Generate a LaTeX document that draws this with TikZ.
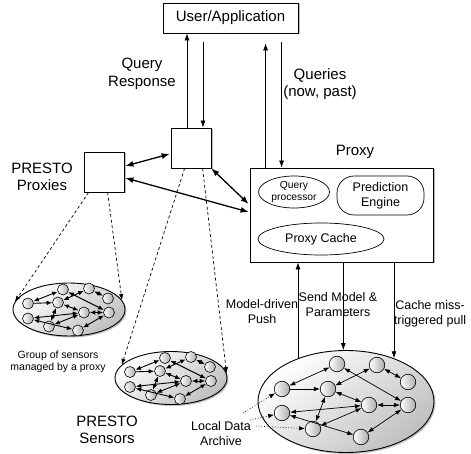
\documentclass[tikz,border=0pt]{standalone}
\usepackage{fontspec}
\setmainfont{Liberation Sans}
\usetikzlibrary{shapes.geometric,arrows.meta,shadows,calc}

\newcommand\grpedges[2]{%
  \draw[#2,<->] (#1A) -- (#1D);
  \draw[#2,->]  (#1D) -- (#1E);
  \draw[#2,<->] (#1B) -- (#1E);
  \draw[#2,<->] (#1B) -- (#1C);
  \draw[#2,<->] (#1A) -- (#1G);
  \draw[#2,<->] (#1E) -- (#1F);
  \draw[#2,<->] (#1F) -- (#1G);
  \draw[#2,<->] (#1H) -- (#1F);
  \draw[#2,<->] (#1I) -- (#1F);
  \draw[#2,<->] (#1E) -- (#1I);
  \draw[#2,<->] (#1H) -- (#1J);
  \draw[#2,<->] (#1J) -- (#1G);
}
\newcommand\smallgrp[3]{%
  \node[cluster, minimum width=112pt, minimum height=53pt] (#1) at (#2,#3) {};
  \begin{scope}[shift={(#2,#3)}]
    \node[ssensor] (#1A) at (-6,-20) {};
    \node[ssensor] (#1B) at (20,-21) {};
    \node[ssensor] (#1C) at (39,-11) {};
    \node[ssensor] (#1D) at (-41,-6) {};
    \node[ssensor] (#1E) at (-11,-7) {};
    \node[ssensor] (#1F) at (15,3) {};
    \node[ssensor] (#1G) at (40,3) {};
    \node[ssensor] (#1H) at (-41,9) {};
    \node[ssensor] (#1I) at (-20,17) {};
    \node[ssensor] (#1J) at (9,21) {};
  \end{scope}
  \grpedges{#1}{sarr}%
}

\begin{document}
\begin{tikzpicture}[x=1pt,y=-1pt,
  box/.style={draw, fill=white, line width=0.8pt,
    drop shadow={shadow xshift=1.5pt, shadow yshift=-1.5pt, opacity=0.55}},
  thinarr/.style={-{Latex[length=7pt,width=5pt]}, line width=0.7pt},
  bidi/.style={{Latex[length=8pt,width=6pt]}-{Latex[length=8pt,width=6pt]}, line width=1.3pt},
  dasharr/.style={dashed, dash pattern=on 3pt off 2.5pt, -{Latex[length=6pt,width=4.5pt]}, line width=0.7pt},
  dotarr/.style={dotted, -{Latex[length=6pt,width=4.5pt]}, line width=0.7pt},
  bigtxt/.style={font=\fontsize{15}{17.5}\selectfont, align=center},
  midtxt/.style={font=\fontsize{12.5}{15}\selectfont, align=center},
  smalltxt/.style={font=\fontsize{10.5}{12}\selectfont, align=center},
  cluster/.style={ellipse, draw, line width=0.9pt, top color=white, bottom color=gray!50,
    shading angle=40, inner sep=0pt,
    drop shadow={shadow xshift=1.5pt, shadow yshift=-1.5pt, opacity=0.5}},
  bsensor/.style={circle, draw, line width=0.6pt, left color=white, right color=gray!65,
    inner sep=0pt, minimum size=15.5pt},
  ssensor/.style={circle, draw, line width=0.6pt, left color=white, right color=gray!65,
    inner sep=0pt, minimum size=11pt},
  barr/.style={line width=0.7pt, >={Latex[length=6pt,width=4.5pt]}},
  sarr/.style={line width=0.9pt, >={Latex[length=5.5pt,width=4.5pt]}},
]
\useasboundingbox (0,0) rectangle (471,454);

% boxes
\node[box, minimum width=135pt, minimum height=30pt, bigtxt] (user) at (230.5,18) {User/Application};
\node[box, minimum size=40pt] (mid) at (191,148) {};
\node[box, minimum size=40pt] (left) at (104,172) {};
\node[box, minimum width=183pt, minimum height=94pt] (proxy) at (341.5,215) {};
\node[ellipse, draw, line width=0.7pt, minimum width=71pt, minimum height=32pt, inner sep=0pt,
  font=\fontsize{10.3}{12}\selectfont, align=center] (qp) at (294,192) {Query\\processor};
\node[draw, rounded corners=17pt, line width=0.7pt, minimum width=87pt, minimum height=39pt,
  midtxt] (pe) at (380.5,195.5) {Prediction\\Engine};
\node[ellipse, draw, line width=0.7pt, minimum width=126pt, minimum height=32pt, inner sep=0pt,
  midtxt] (pcache) at (321,239) {Proxy Cache};

% sensor groups
\smallgrp{lc}{69}{309.5}
\smallgrp{mc}{171}{378}

\node[cluster, minimum width=176pt, minimum height=102pt] (bc) at (346,401.5) {};
\begin{scope}[shift={(346,401.5)}]
  \node[bsensor] (bcA) at (-9,-37.5) {};
  \node[bsensor] (bcB) at (31,-36.5) {};
  \node[bsensor] (bcC) at (62,-19.5) {};
  \node[bsensor] (bcD) at (-64,-12.5) {};
  \node[bsensor] (bcE) at (-18,-12.5) {};
  \node[bsensor] (bcF) at (23,3.5) {};
  \node[bsensor] (bcG) at (62,3.5) {};
  \node[bsensor] (bcH) at (-64,11.5) {};
  \node[bsensor] (bcI) at (-33,27.5) {};
  \node[bsensor] (bcJ) at (15,35.5) {};
\end{scope}
\grpedges{bc}{barr}

% user <-> proxies
\draw[thinarr] ([xshift=-4pt]mid.north) -- ([xshift=-4pt]mid.north |- user.south);
\draw[thinarr] ($(mid.north |- user.south)+(12,9)$) -- ([xshift=12pt]mid.north);
\draw[thinarr] ($(proxy.north west)+(16,0)$) -- ($(proxy.north west |- user.south)+(16,10)$);
\draw[thinarr] ($(proxy.north west |- user.south)+(32,9)$) -- ($(proxy.north west)+(32,0)$);

% proxy <-> proxy
\draw[bidi] (mid.south east) -- ($(proxy.west)+(-1,-11)$);
\draw[bidi] ($(left.east)+(1,-6)$) -- ($(mid.west)+(-1,6)$);
\draw[bidi] ($(left.east)+(1,6)$) -- ($(proxy.west)+(-1,-3)$);

% proxies to sensor groups
\draw[dasharr] ($(left.south west)+(5,0)$) -- (lc.172);
\draw[dasharr] ($(left.south west)+(24,0)$) -- (lc.10);
\draw[dasharr] ($(mid.south west)+(14,0)$) -- (mc.165);
\draw[dasharr] ($(mid.south west)+(32,0)$) -- (mc.5);

% proxy <-> big group
\draw[thinarr] (bc.138.5) -- (bc.138.5 |- proxy.south);
\draw[thinarr] (bc.93 |- proxy.south) -- (bc.93);
\draw[thinarr] (bc.42.5 |- proxy.south) -- (bc.42.5);

% local data archive
\coordinate (ld1) at (243,413);
\coordinate (ld2) at (250,420);
\coordinate (ld3) at (256,426);
\draw[dotarr] (ld1) -- (bcD);
\draw[dotarr] (ld2) -- (bcH);
\draw[dotarr] (ld3) -- (bcI);

% labels
\node[bigtxt] (lqr) at (142,74) {Query\\Response};
\node[bigtxt] (lq) at (320,84) {Queries\\(now, past)};
\node[bigtxt] (lproxy) at (355,152) {Proxy};
\node[bigtxt] (lpp) at (42,177) {PRESTO\\Proxies};
\node[midtxt] (lmd) at (262,312) {Model-driven\\Push};
\node[midtxt] (lsm) at (338,305) {Send Model \&\\Parameters};
\node[midtxt] (lcm) at (430,314) {Cache miss-\\triggered pull};
\node[smalltxt] (lgrp) at (58,362) {Group of sensors\\managed by a proxy};
\node[bigtxt] (lps) at (107,430) {PRESTO\\Sensors};
\node[midtxt] (lld) at (221,434) {Local Data\\Archive};
\end{tikzpicture}
\end{document}
